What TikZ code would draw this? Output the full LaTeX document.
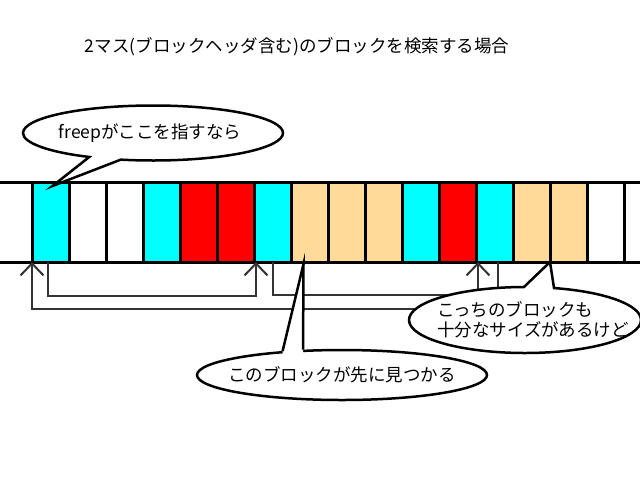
\documentclass[tikz,border=0pt]{standalone}
\usepackage{fontspec}
\usetikzlibrary{arrows.meta, shapes.callouts, shapes.geometric}
\newfontfamily\jpfont{Noto Sans CJK JP}
\definecolor{hdr}{RGB}{0,255,255}
\definecolor{used}{RGB}{255,0,0}
\definecolor{hit}{RGB}{255,218,153}

\begin{document}
\begin{tikzpicture}[x=1pt, y=-1pt, font=\jpfont\fontsize{17.5}{20}\selectfont,
    cell/.style = {draw, line width=3pt, minimum width=37pt, minimum height=80pt, inner sep=0pt, outer sep=0pt},
    link/.style = {draw=black!80, line width=2pt, -{Straight Barb[length=12pt, width=23pt]}},
    bubble/.style = {ellipse callout, draw, fill=white, line width=2.5pt, inner sep=0pt},
    blob/.style = {ellipse, draw, fill=white, line width=2.5pt, inner sep=0pt}]
    \useasboundingbox[fill=white] (0,0) rectangle (640,480);

    \node (title) at (297,47) {2マス(ブロックヘッダ含む)のブロックを検索する場合};

    % memory cells
    \foreach \c [count=\i] in {hdr,white,white,hdr,used,used,hdr,hit,hit,hit,hdr,used,hdr,hit,hit,white}
        \node[cell, fill=\c] (c\i) at (13.5+37*\i,222) {};
    \draw[line width=3pt] (0,182) -- (640,182);
    \draw[line width=3pt] (0,262) -- (640,262);

    % next-block links
    \draw[link] ([xshift=-2.5pt]c1.south) -- ++(0,34) -| ([xshift=2pt]c7.south west);
    \draw[link] (c7.south) -- ++(0,33) -| ([xshift=2pt]c13.south west);
    \draw[link] ([xshift=3.5pt]c13.south) -- ++(0,47) -| (c1.south west);

    % speech bubbles
    \node[bubble, minimum width=260pt, minimum height=55pt,
          callout absolute pointer={([shift={(2,4)}]c1.north)}] (b1) at (153,133) {};
    \node (t1) at ([xshift=-3pt]b1) {freepがここを指すなら};

    \node[blob, minimum width=290pt, minimum height=50pt] (b2) at (342,375) {};
    \coordinate (tip2) at ([shift={(-6,2)}]c8.south);
    \fill[white] ([yshift=-4pt]b2.158) -- (b2.158) -- (tip2) -- (b2.147) -- ([yshift=-4pt]b2.147) -- cycle;
    \draw[line width=2.5pt, line join=miter] (b2.158) -- (tip2) -- (b2.147);
    \node (t2) at (b2) {このブロックが先に見つかる};

    \node[bubble, minimum width=232pt, minimum height=66pt,
          callout absolute pointer={(c15.south west)}] (b3) at (525,320) {};
    \node[align=left] (t3) at ([xshift=8pt]b3) {こっちのブロックも\\十分なサイズがあるけど};

    %\draw[link] (c13.south) -- ++(0,40) -| (c7.south west);
\end{tikzpicture}
\end{document}
